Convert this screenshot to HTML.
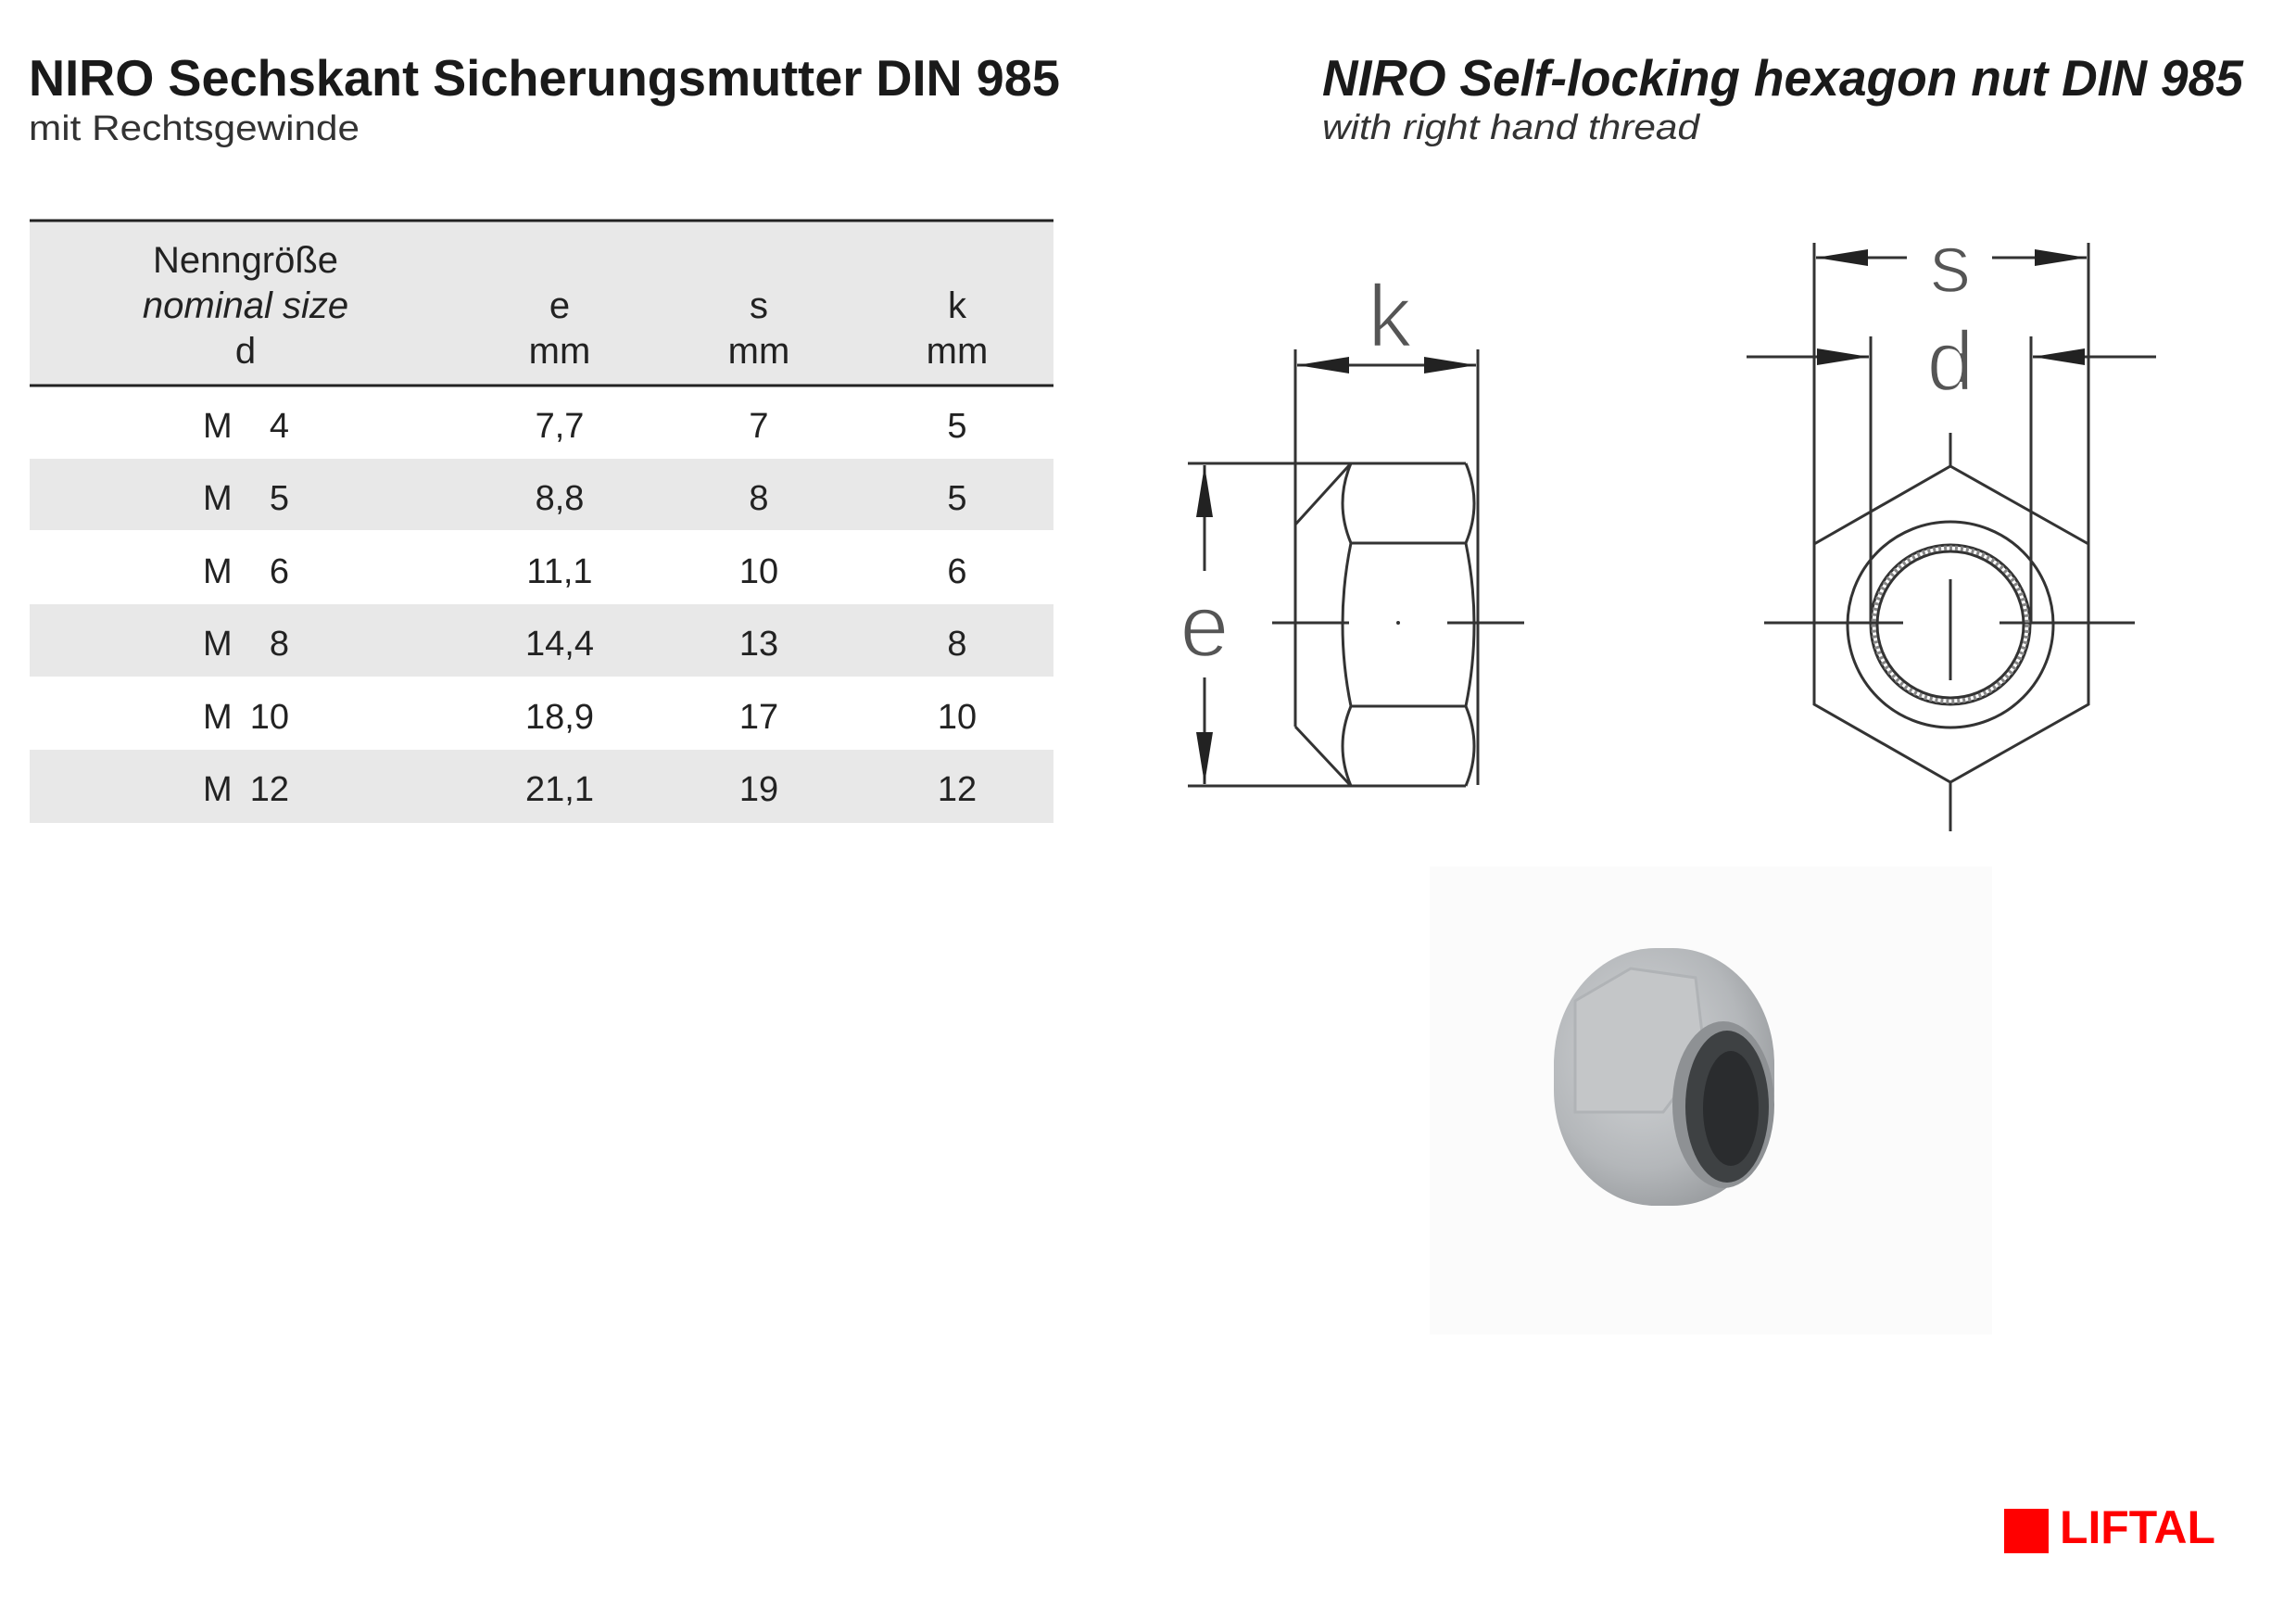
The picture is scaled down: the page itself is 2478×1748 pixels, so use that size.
<!DOCTYPE html>
<html><head><meta charset="utf-8"><style>
html,body{margin:0;padding:0;background:#fff}
svg{display:block}
text{font-family:"Liberation Sans",sans-serif}
</style></head><body>
<svg width="2478" height="1748" viewBox="0 0 2478 1748" xmlns="http://www.w3.org/2000/svg">
<defs>
<radialGradient id="nutg" cx="40%" cy="40%" r="65%">
<stop offset="0" stop-color="#d4d6d8"/><stop offset="0.7" stop-color="#b4b7ba"/><stop offset="1" stop-color="#9a9da0"/>
</radialGradient>
<marker id="ar" viewBox="0 0 56 18" refX="56" refY="9" markerWidth="56" markerHeight="18" markerUnits="userSpaceOnUse" orient="auto"><path d="M0,0 L56,9 L0,18 z" fill="#222"/></marker>
</defs>
<rect x="1543" y="935" width="607" height="505" fill="#fbfbfb"/>
<!-- Headings -->
<text x="31" y="103" font-size="55" font-weight="bold" fill="#1a1a1a" textLength="1113" lengthAdjust="spacingAndGlyphs">NIRO Sechskant Sicherungsmutter DIN 985</text>
<text x="31" y="151" font-size="38" fill="#333" textLength="357" lengthAdjust="spacingAndGlyphs">mit Rechtsgewinde</text>
<text x="1427" y="103" font-size="55" font-weight="bold" font-style="italic" fill="#1a1a1a" textLength="994" lengthAdjust="spacingAndGlyphs">NIRO Self-locking hexagon nut DIN 985</text>
<text x="1427" y="150" font-size="38" font-style="italic" fill="#333" textLength="407" lengthAdjust="spacingAndGlyphs">with right hand thread</text>

<!-- Table -->
<rect x="32" y="238" width="1105" height="178" fill="#e8e8e8"/>
<rect x="32" y="495" width="1105" height="77" fill="#e8e8e8"/>
<rect x="32" y="652" width="1105" height="78" fill="#e8e8e8"/>
<rect x="32" y="809" width="1105" height="79" fill="#e8e8e8"/>
<line x1="32" y1="238" x2="1137" y2="238" stroke="#222" stroke-width="3"/>
<line x1="32" y1="416" x2="1137" y2="416" stroke="#222" stroke-width="3"/>
<g font-size="40" fill="#222" text-anchor="middle">
<text x="265" y="294">Nenngröße</text>
<text x="265" y="343" font-style="italic">nominal size</text>
<text x="265" y="392">d</text>
<text x="604" y="343">e</text><text x="604" y="392">mm</text>
<text x="819" y="343">s</text><text x="819" y="392">mm</text>
<text x="1033" y="343">k</text><text x="1033" y="392">mm</text>
</g>
<g font-size="38" fill="#222">
<g text-anchor="start">
<text x="219" y="472">M</text><text x="219" y="550">M</text><text x="219" y="629">M</text><text x="219" y="707">M</text><text x="219" y="786">M</text><text x="219" y="864">M</text>
</g>
<g text-anchor="end">
<text x="312" y="472">4</text><text x="312" y="550">5</text><text x="312" y="629">6</text><text x="312" y="707">8</text><text x="312" y="786">10</text><text x="312" y="864">12</text>
</g>
<g text-anchor="middle">
<text x="604" y="472">7,7</text><text x="819" y="472">7</text><text x="1033" y="472">5</text>
<text x="604" y="550">8,8</text><text x="819" y="550">8</text><text x="1033" y="550">5</text>
<text x="604" y="629">11,1</text><text x="819" y="629">10</text><text x="1033" y="629">6</text>
<text x="604" y="707">14,4</text><text x="819" y="707">13</text><text x="1033" y="707">8</text>
<text x="604" y="786">18,9</text><text x="819" y="786">17</text><text x="1033" y="786">10</text>
<text x="604" y="864">21,1</text><text x="819" y="864">19</text><text x="1033" y="864">12</text>
</g>
</g>

<!-- Side view drawing -->
<g stroke="#333" stroke-width="3" fill="none">
<line x1="1398" y1="377" x2="1398" y2="784"/>
<line x1="1595" y1="377" x2="1595" y2="847"/>
<line x1="1497" y1="394" x2="1400" y2="394" marker-end="url(#ar)"/>
<line x1="1497" y1="394" x2="1593" y2="394" marker-end="url(#ar)"/>
<line x1="1282" y1="500" x2="1582" y2="500"/>
<line x1="1282" y1="848" x2="1582" y2="848"/>
<line x1="1300" y1="616" x2="1300" y2="502" marker-end="url(#ar)"/>
<line x1="1300" y1="731" x2="1300" y2="846" marker-end="url(#ar)"/>
<line x1="1398" y1="566" x2="1458" y2="500"/>
<line x1="1398" y1="784" x2="1458" y2="848"/>
<path d="M1458,500 Q1440,543 1458,586 Q1440,674 1458,762 Q1440,805 1458,848"/>
<path d="M1582,500 Q1600,543 1582,586 Q1600,674 1582,762 Q1600,805 1582,848"/>
<line x1="1458" y1="586" x2="1582" y2="586"/>
<line x1="1458" y1="762" x2="1582" y2="762"/>
<line x1="1373" y1="672" x2="1456" y2="672"/>
<line x1="1562" y1="672" x2="1645" y2="672"/>
</g>
<circle cx="1509" cy="672" r="2" fill="#333"/>
<g fill="#555" stroke="#fff" stroke-width="2.5" paint-order="normal">
<text x="1500" y="374" font-size="96" text-anchor="middle">k</text>
<text x="1300" y="708" font-size="96" text-anchor="middle">e</text>
<text x="2105" y="315" font-size="90" text-anchor="middle">s</text>
<text x="2105" y="421" font-size="92" text-anchor="middle">d</text>
</g>

<!-- Front view drawing -->
<g stroke="#333" stroke-width="3" fill="none">
<line x1="1958" y1="262" x2="1958" y2="760"/>
<line x1="2254" y1="262" x2="2254" y2="760"/>
<line x1="2058" y1="278" x2="1960" y2="278" marker-end="url(#ar)"/>
<line x1="2150" y1="278" x2="2252" y2="278" marker-end="url(#ar)"/>
<line x1="2019" y1="363" x2="2019" y2="671"/>
<line x1="2192" y1="363" x2="2192" y2="671"/>
<line x1="1885" y1="385" x2="2017" y2="385" marker-end="url(#ar)"/>
<line x1="2327" y1="385" x2="2194" y2="385" marker-end="url(#ar)"/>
<polygon points="2105,503 2254,587 2254,760 2105,844 1958,760 1958,587"/>
<line x1="2105" y1="467" x2="2105" y2="503"/>
<line x1="2105" y1="844" x2="2105" y2="897"/>
<line x1="2105" y1="625" x2="2105" y2="734"/>
<line x1="1904" y1="672" x2="2054" y2="672"/>
<line x1="2158" y1="672" x2="2304" y2="672"/>
<circle cx="2105" cy="674" r="111"/>
<circle cx="2105" cy="674" r="86"/>
<circle cx="2105" cy="674" r="83" stroke="#888" stroke-width="5" stroke-dasharray="3 3"/>
<circle cx="2105" cy="674" r="79"/>
</g>

<!-- Photo of nut -->
<g>
<rect x="1677" y="1023" width="238" height="278" rx="110" ry="125" fill="url(#nutg)"/>
<polygon points="1700,1080 1760,1045 1830,1055 1840,1140 1795,1200 1700,1200" fill="#c4c6c8" stroke="#b0b3b6" stroke-width="3"/>
<ellipse cx="1860" cy="1192" rx="55" ry="90" fill="#8e9194"/>
<ellipse cx="1864" cy="1194" rx="45" ry="82" fill="#3e4143"/>
<ellipse cx="1868" cy="1196" rx="30" ry="62" fill="#2a2c2e"/>
</g>

<!-- Logo -->
<rect x="2163" y="1628" width="48" height="48" fill="#ff0000"/>
<text x="2223" y="1665" font-size="50" font-weight="bold" fill="#ff0000" font-family="Liberation Serif, serif" textLength="168" lengthAdjust="spacingAndGlyphs">LIFTAL</text>
</svg>
</body></html>
